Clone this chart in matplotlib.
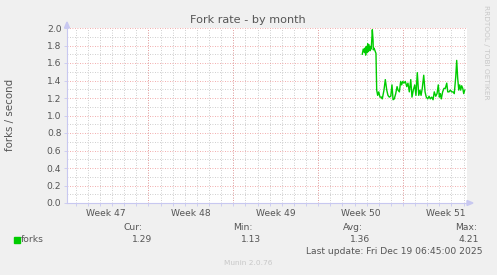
import numpy as np
import matplotlib
matplotlib.use("Agg")
import matplotlib.pyplot as plt
from datetime import datetime, timedelta

# ---- data (days since start of the month window, forks per second) ----
t_day = [24.36, 24.44, 24.53, 24.58, 24.64, 24.69, 24.75, 24.81, 24.86, 24.91,
         25.00, 25.05, 25.10, 25.19, 25.25, 25.27, 25.33, 25.41, 25.49, 25.55,
         25.63, 25.72, 25.82, 25.96, 26.01, 26.15, 26.26, 26.38, 26.48, 26.59,
         26.71, 26.81, 26.90, 27.00, 27.12, 27.23, 27.31, 27.42, 27.53, 27.61,
         27.70, 27.80, 27.91, 28.03, 28.13, 28.24, 28.36, 28.46, 28.57, 28.69,
         28.79, 28.90, 29.02, 29.12, 29.21, 29.31, 29.43, 29.54, 29.64, 29.76,
         29.87, 29.97, 30.09, 30.20, 30.30, 30.42, 30.53, 30.63, 30.72, 30.80,
         30.88, 30.99, 31.10, 31.21, 31.33, 31.41, 31.52, 31.62, 31.74, 31.85,
         31.95, 32.07, 32.15, 32.23, 32.32, 32.40, 32.48, 32.56, 32.65, 32.73,
         32.81]
forks = [1.70, 1.76, 1.72, 1.77, 1.69, 1.79, 1.72, 1.82, 1.73, 1.81,
         1.74, 1.79, 1.76, 1.98, 1.86, 1.75, 1.77, 1.74, 1.71, 1.29,
         1.23, 1.27, 1.21, 1.21, 1.19, 1.29, 1.41, 1.29, 1.23, 1.21,
         1.22, 1.35, 1.18, 1.19, 1.25, 1.33, 1.29, 1.27, 1.39, 1.35,
         1.39, 1.37, 1.39, 1.33, 1.37, 1.27, 1.41, 1.21, 1.29, 1.35,
         1.23, 1.49, 1.23, 1.29, 1.23, 1.31, 1.46, 1.27, 1.21, 1.19,
         1.22, 1.19, 1.21, 1.18, 1.27, 1.22, 1.25, 1.35, 1.21, 1.25,
         1.19, 1.27, 1.31, 1.31, 1.37, 1.27, 1.27, 1.29, 1.27, 1.27,
         1.25, 1.44, 1.63, 1.43, 1.29, 1.35, 1.29, 1.34, 1.31, 1.25,
         1.29]

week_labels = ["Week 47", "Week 48", "Week 49", "Week 50", "Week 51"]
y_ticks = [0.0, 0.2, 0.4, 0.6, 0.8, 1.0, 1.2, 1.4, 1.6, 1.8, 2.0]
stat_names = ["Cur:", "Min:", "Avg:", "Max:"]
stat_values = ["1.29", "1.13", "1.36", "4.21"]

# ---- time window (munin month graph: 33 days) ----
end = datetime(2025, 12, 19, 6, 45)
start = end - timedelta(days=33)
span = (end - start).total_seconds() / 86400

def days(dt):
    return (dt - start).total_seconds() / 86400

first_midnight = datetime(start.year, start.month, start.day) + timedelta(days=1)
midnights = [days(first_midnight + timedelta(days=i)) for i in range(40)]
midnights = [m for m in midnights if m < span]
sundays = [days(datetime(2025, 11, 23) + timedelta(days=7 * i)) for i in range(4)]
label_pos = [days(datetime(2025, 11, 16) + timedelta(days=7 * i, hours=84)) for i in range(5)]

bg = "#F0F0F0"
txt = "#555555"
fs = 6.6
fig = plt.figure(figsize=(4.97, 2.75), dpi=100, facecolor=bg)
ax = fig.add_axes([67 / 497, 72 / 275, 400 / 497, 175 / 275])
ax.set_facecolor("white")
ax.set_xlim(0, span)
ax.set_ylim(0, 2.0)

# grid
for m in midnights:
    ax.axvline(m, color="#BEBEBE", lw=0.6, ls=(0, (1, 2)), zorder=1)
for y in np.arange(0.1, 2.0, 0.2):
    ax.axhline(y, color="#BEBEBE", lw=0.6, ls=(0, (1, 2)), zorder=1)
for s in sundays:
    ax.axvline(s, color="#EE9090", lw=0.6, ls=(0, (1, 2)), zorder=2)
for y in y_ticks[1:]:
    ax.axhline(y, color="#EE9090", lw=0.6, ls=(0, (1, 2)), zorder=2)

ax.plot(t_day, forks, color="#00CC00", lw=1.0, zorder=5)

for s in ["top", "right"]:
    ax.spines[s].set_visible(False)
for s in ["left", "bottom"]:
    ax.spines[s].set_color("#C8C8F0")
    ax.spines[s].set_linewidth(0.8)

ax.set_yticks(y_ticks)
ax.set_yticklabels(["%.1f" % v for v in y_ticks])
ax.set_xticks(midnights, minor=True)
ax.set_xticks(label_pos)
ax.set_xticklabels(week_labels)
ax.tick_params(axis="x", which="major", length=0, pad=4, labelsize=fs, labelcolor=txt)
ax.tick_params(axis="x", which="minor", length=2, color="#C8C8F0", width=0.6)
ax.tick_params(axis="y", length=2, color="#C8C8F0", width=0.6, pad=2, labelsize=fs, labelcolor=txt)

# axis arrows
fig.patches.append(plt.Polygon([[64.5, 275 - 28], [69.5, 275 - 28], [67, 275 - 22]],
                               closed=True, color="#C8C8F0", transform=None, figure=fig))
fig.patches.append(plt.Polygon([[467, 275 - 200.5], [467, 275 - 205.5], [473, 275 - 203]],
                               closed=True, color="#C8C8F0", transform=None, figure=fig))

def px(x, y):
    return x / 497, 1 - y / 275

fig.text(*px(248, 20), "Fork rate - by month", ha="center", va="center", fontsize=8.1, color=txt)
fig.text(*px(10.5, 115), "forks / second", ha="center", va="center", rotation=90, fontsize=7.4, color=txt)
fig.text(*px(486, 52), "RRDTOOL / TOBI OETIKER", ha="center", va="center", rotation=270,
         fontsize=5.3, color="#C8C8C8")

fig.patches.append(plt.Rectangle((14, 275 - 243), 6, 6, color="#00CC00", transform=None, figure=fig))
fig.text(*px(21, 240), "forks", ha="left", va="center", fontsize=fs, color=txt)
name_x = [142, 253, 363, 477]
val_x = [152, 261, 370, 479]
for n, v, nx, vx in zip(stat_names, stat_values, name_x, val_x):
    fig.text(*px(nx, 228), n, ha="right", va="center", fontsize=fs, color=txt)
    fig.text(*px(vx, 239.5), v, ha="right", va="center", fontsize=fs, color=txt)
fig.text(*px(482, 251), "Last update: Fri Dec 19 06:45:00 2025", ha="right", va="center",
         fontsize=fs, color=txt)
fig.text(*px(248, 263), "Munin 2.0.76", ha="center", va="center", fontsize=5.3, color="#C8C8C8")

fig.savefig("out.png", dpi=100, facecolor=bg)
